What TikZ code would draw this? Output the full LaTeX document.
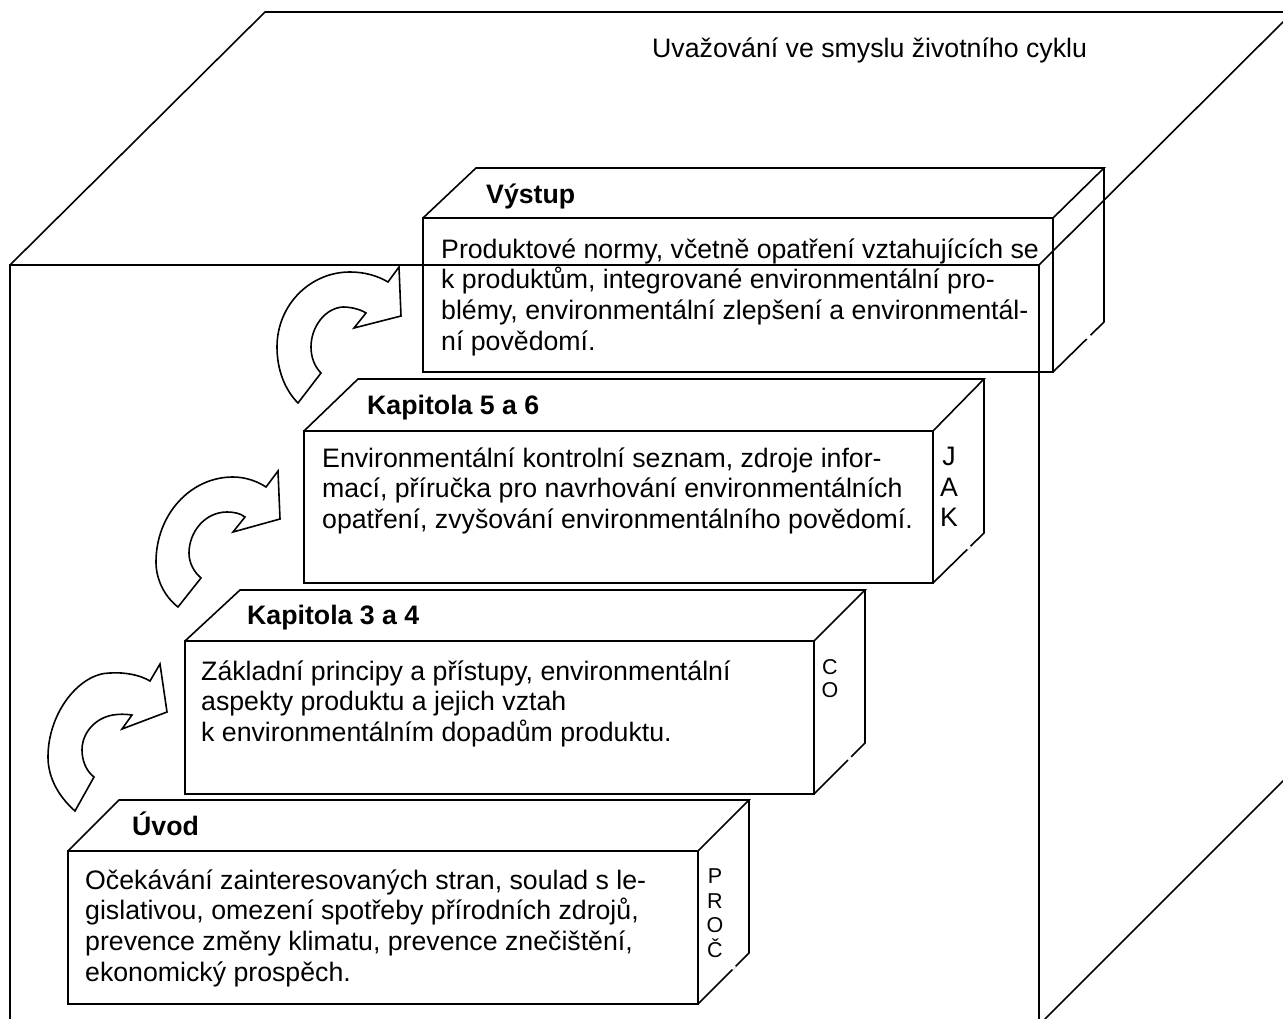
\documentclass[tikz,border=0pt]{standalone}
\usepackage{fontspec}
\setmainfont{Liberation Sans}
\newcommand{\firstline}{\rule{0pt}{20pt}}
\tikzset{
  edge/.style={draw=black,line width=1.6pt,line join=miter},
  body/.style={inner sep=0pt,anchor=north west,align=left,font=\fontsize{26.7}{30.7}\selectfont},
  head/.style={inner sep=0pt,anchor=base west,font=\fontsize{26.7}{30.7}\selectfont\bfseries},
  side/.style={inner sep=0pt,anchor=north,align=center},
  gapmark/.style={draw=white,line width=3pt}
}
\begin{document}
\begin{tikzpicture}[x=1pt,y=-1pt]
\useasboundingbox (0,0) rectangle (1283,1019);
\begin{scope}
\clip (0,0) rectangle (1283,1019);
% outer box
\draw[edge] (10,1040) -- (10,265) -- (1039,265) -- (1039,1040);
\draw[edge] (10,265) -- (265,12) -- (1300,12);
\draw[edge] (1039,265) -- (1295,10);
\draw[edge] (1039,1025) -- (1300,764);
% Vystup
\draw[edge] (423,218) rectangle (1053,372);
\draw[edge] (423,218) -- (476,168) -- (1104,168) -- (1053,218);
\draw[edge] (1104,168) -- (1104,322) -- (1053,372);
\draw[gapmark] (1090,335) -- (1087,339);
% K5
\draw[edge] (304,431) rectangle (933,583);
\draw[edge] (304,431) -- (358,379) -- (984,379) -- (933,431);
\draw[edge] (984,379) -- (984,533) -- (933,583);
\draw[gapmark] (970,546) -- (967,549);
% K3
\draw[edge] (185,641) rectangle (814,794);
\draw[edge] (185,641) -- (240,590) -- (865,590) -- (814,641);
\draw[edge] (865,590) -- (865,743) -- (814,794);
\draw[gapmark] (851,757) -- (848,760);
% Uvod
\draw[edge] (68,851) rectangle (698,1004);
\draw[edge] (68,851) -- (119,800) -- (749,800) -- (698,851);
\draw[edge] (749,800) -- (749,953) -- (698,1004);
\draw[gapmark] (735,966) -- (732,969);
% arrows
\draw[edge] (75,811) .. controls (57,795) and (48,776) .. (48,757) .. controls (48,712) and (80,673) .. (110,673) .. controls (125,672) and (140,675) .. (150,681) -- (160,664) -- (167,712) -- (122,729) -- (132,715) .. controls (125,714) and (119,714) .. (113,715) .. controls (95,718) and (82,733) .. (82,750) .. controls (82,760) and (86,771) .. (94,777) -- cycle;
\draw[edge] (178,607) .. controls (165,597) and (156,580) .. (156,562) .. controls (156,515) and (190,477) .. (233,477) .. controls (245,477) and (257,481) .. (266,487) -- (278,471) -- (280,519) -- (233,532) -- (245,517) .. controls (240,513) and (233,512) .. (227,512) .. controls (205,512) and (189,532) .. (189,553) .. controls (189,563) and (194,572) .. (201,578) -- cycle;
\draw[edge] (298,403) .. controls (285,390) and (277,370) .. (277,347) .. controls (277,305) and (310,272) .. (350,272) .. controls (365,272) and (378,276) .. (388,282) -- (399,267) -- (401,316) -- (354,328) -- (366,313) .. controls (360,309) and (350,307) .. (343,307) .. controls (325,308) and (311,327) .. (311,347) .. controls (311,358) and (315,367) .. (321,373) -- cycle;
\end{scope}
% texts
\node[inner sep=0pt,anchor=base west,font=\fontsize{26.7}{30.7}\selectfont] (title) at (652,58) {Uvažování ve smyslu životního cyklu};
\node[head] (hv) at (486,204) {Výstup};
\node[head] (h5) at (367,414) {Kapitola 5 a 6};
\node[head] (h3) at (247,624) {Kapitola 3 a 4};
\node[head] (hu) at (132,835) {Úvod};
\node[body] (tv) at (441,238) {\firstline Produktové normy, včetně opatření vztahujících se\\k produktům, integrované environmentální pro-\\blémy, environmentální zlepšení a environmentál-\\ní povědomí.};
\node[body] (t5) at (322,447) {\firstline Environmentální kontrolní seznam, zdroje infor-\\mací, příručka pro navrhování environmentálních\\opatření, zvyšování environmentálního povědomí.};
\node[body] (t3) at (201,660) {\firstline Základní principy a přístupy, environmentální\\aspekty produktu a jejich vztah\\k environmentálním dopadům produktu.};
\node[body] (tu) at (85,869) {\firstline Očekávání zainteresovaných stran, soulad s le-\\gislativou, omezení spotřeby přírodních zdrojů,\\prevence změny klimatu, prevence znečištění,\\ekonomický prospěch.};
\node[side,font=\fontsize{26.7}{30.7}\selectfont] (sj) at (949,447) {J\\A\\K};
\node[side,font=\fontsize{21.5}{23.3}\selectfont] (sc) at (830,659) {C\\O};
\node[side,font=\fontsize{21.5}{24.5}\selectfont] (sp) at (715,869) {P\\R\\O\\Č};
\end{tikzpicture}
\end{document}
